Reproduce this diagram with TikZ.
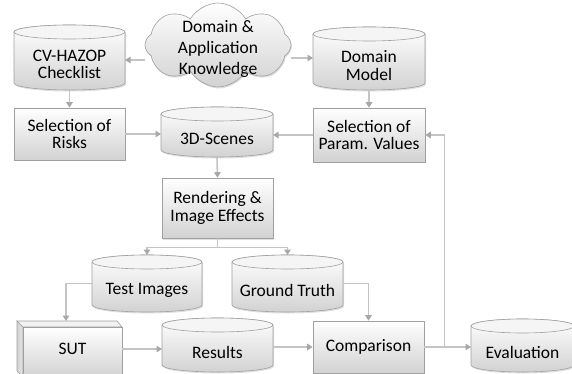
\documentclass[tikz,border=0pt]{standalone}
\usepackage{fontspec}
\setmainfont{Carlito}
\usetikzlibrary{shapes.symbols,shadows,arrows.meta}
\definecolor{bord}{HTML}{A0A0A0}
\definecolor{conncol}{HTML}{C4C4C4}
\definecolor{tipcol}{HTML}{A8A8A8}
\definecolor{shadebot}{HTML}{D2D2D2}
\tikzset{
  shapefill/.style={draw=bord, line width=0.6pt, top color=white, bottom color=shadebot,
    drop shadow={shadow xshift=1pt, shadow yshift=-1.5pt, opacity=.25}},
  cyltop/.style={draw=bord, line width=0.6pt, fill=white!96!black},
  txt/.style={font=\fontsize{17.5}{17.5}\selectfont, align=center, inner sep=0pt, text=black},
  frame/.style={inner sep=0pt, outer sep=0pt},
  rectbox/.style={shapefill, rectangle, txt},
  conn/.style={draw=conncol, line width=1.6pt,
    -{Triangle[length=5.5pt,width=6.5pt,color=tipcol]}},
}
\newcommand\cylbox[6]{%
  \path[shapefill] (#2,-#4-7) -- (#2,-#5+7)
    arc[start angle=180,end angle=360,x radius={(#3-#2)/2},y radius=7]
    -- (#3,-#4-7)
    arc[start angle=0,end angle=180,x radius={(#3-#2)/2},y radius=7] -- cycle;
  \path[cyltop] ({(#2+#3)/2},-#4-7) ellipse[x radius={(#3-#2)/2}, y radius=7];
  \node[frame, minimum width={(#3-#2)*1pt}, minimum height={(#5-#4)*1pt}]
    (#1) at ({(#2+#3)/2},{-(#4+#5)/2}) {};
  \node[txt] (#1-t) at ({(#2+#3)/2},{-(#4+14+#5)/2}) {#6};
}
\newcommand\rbox[6]{%
  \node[rectbox, minimum width={(#3-#2)*1pt}, minimum height={(#5-#4)*1pt}]
    (#1) at ({(#2+#3)/2},{-(#4+#5)/2}) {#6};
}
\begin{document}
\begin{tikzpicture}[x=1pt,y=1pt]
\useasboundingbox (0,0) rectangle (572,-374);
% cloud
\node[cloud, cloud puffs=8, cloud puff arc=120, shapefill, inner sep=0pt,
      minimum width=146pt, minimum height=84pt] (cloud) at (218,-45) {};
\node[txt, font=\fontsize{17.5}{21}\selectfont] (cloud-t) at (218,-49)
      {Domain \&\\Application\\Knowledge};
% cylinders and boxes
\cylbox{hazop}{14}{125}{25}{90}{CV-HAZOP\\Checklist}
\cylbox{dommod}{313}{425}{27}{90}{Domain\\Model}
\rbox{risks}{14}{125}{108}{160}{Selection of\\Risks}
\cylbox{scenes}{161}{273}{107}{157}{3D-Scenes}
\rbox{param}{313}{425}{108}{162}{Selection of\\Param. Values}
\rbox{render}{162}{273}{178}{238}{Rendering \&\\Image Effects}
\cylbox{testimg}{92}{202}{255}{312}{Test Images}
\cylbox{gt}{232}{343}{255}{312}{Ground Truth}
\cylbox{results}{162}{273}{318}{372}{Results}
\rbox{comp}{313}{424}{321}{373}{Comparison}
\cylbox{eval}{471}{574}{319}{372}{Evaluation}
% SUT bevelled box
\path[draw=bord, line width=0.6pt, left color=gray!35, right color=gray!20,
  drop shadow={shadow xshift=1pt, shadow yshift=-1.5pt, opacity=.25}]
  (17,-321) -- (23,-327) -- (23,-377) -- (17,-371) -- cycle;
\path[draw=bord, line width=0.6pt, fill=gray!10]
  (17,-321) -- (117,-321) -- (122,-327) -- (23,-327) -- cycle;
\node[rectbox, minimum width=99pt, minimum height=50pt] (sutf) at (72.5,-352) {};
\node[frame, minimum width=106pt, minimum height=56pt] (sut) at (69,-349) {};
\node[txt] (sut-t) at (72.5,-349) {SUT};
% connectors
\draw[conn] (cloud.west |- 0,-60) -- (hazop.east |- 0,-60);
\draw[conn] (cloud.east |- 0,-58) -- (dommod.west |- 0,-58);
\draw[conn] (hazop.south) -- (risks.north);
\draw[conn] (dommod.south) -- (param.north);
\draw[conn] (risks.east) -- (risks.east -| scenes.west);
\draw[conn] (param.west) -- (param.west -| scenes.east);
\draw[conn] (scenes.south) -- (render.north);
\draw[conn] (render.south) -- ++(0,-9) -| (testimg.north);
\draw[conn] (render.south) -- ++(0,-9) -| (gt.north);
\draw[conn] (testimg.west) -| ([xshift=-3pt]sut.north);
\draw[conn] (sut.east) -- (sut.east -| results.west);
\draw[conn] (results.east |- comp.west) -- (comp.west);
\draw[conn] (gt.east) -| (comp.north);
\draw[conn] (comp.east) -- (comp.east -| eval.west);
\draw[conn] (comp.east) -- ++(20,0) |- (param.east);
\end{tikzpicture}
\end{document}
